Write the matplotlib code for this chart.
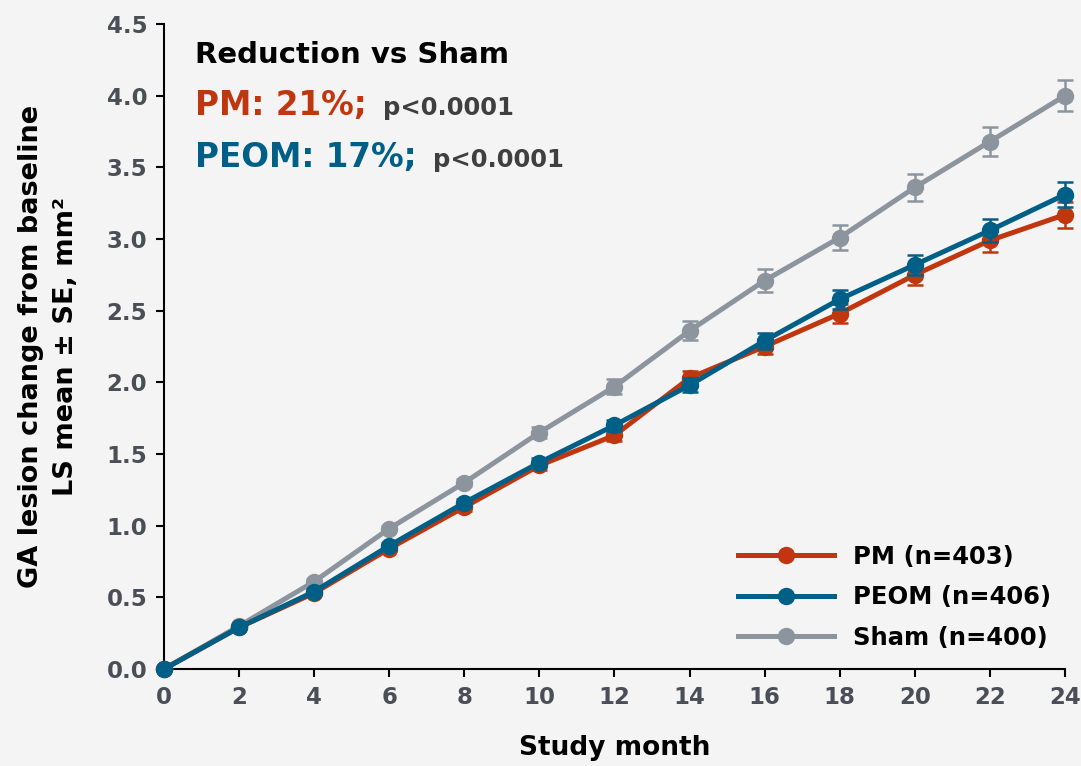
import matplotlib
matplotlib.use("Agg")
import matplotlib.pyplot as plt
import numpy as np

plt.rcParams['font.family'] = ['DejaVu Sans']
plt.rcParams['font.weight'] = 'bold'

months = [0, 2, 4, 6, 8, 10, 12, 14, 16, 18, 20, 22, 24]
pm_mean = [0.0, 0.29, 0.53, 0.84, 1.13, 1.42, 1.63, 2.03, 2.25, 2.48, 2.75, 2.99, 3.17]
peom_mean = [0.0, 0.29, 0.54, 0.86, 1.16, 1.44, 1.70, 1.98, 2.29, 2.58, 2.82, 3.06, 3.31]
sham_mean = [0.0, 0.30, 0.61, 0.98, 1.30, 1.65, 1.97, 2.36, 2.71, 3.01, 3.36, 3.68, 4.00]
pm_se = [0.0, 0.01, 0.015, 0.02, 0.025, 0.03, 0.04, 0.05, 0.055, 0.065, 0.07, 0.08, 0.09]
peom_se = [0.0, 0.01, 0.015, 0.02, 0.025, 0.03, 0.04, 0.05, 0.055, 0.065, 0.07, 0.08, 0.09]
sham_se = [0.0, 0.01, 0.015, 0.02, 0.025, 0.035, 0.05, 0.065, 0.08, 0.09, 0.095, 0.10, 0.11]

labels = ['PM (n=403)', 'PEOM (n=406)', 'Sham (n=400)']
colors = ['#C0370F', '#005F86', '#8C959E']
bg = '#F4F4F4'
tick_color = '#4A4F57'
W, H = 1081, 766

fig = plt.figure(figsize=(W / 100, H / 100), dpi=100, facecolor=bg)
ax = fig.add_axes([164 / W, 1 - 669 / H, (1065 - 164) / W, (669 - 24) / H])
ax.set_facecolor(bg)

# Draw sham underneath the two treatment arms
series = list(zip(labels, [pm_mean, peom_mean, sham_mean], [pm_se, peom_se, sham_se], colors))
for z, (lab, mean, se, col) in zip([4, 5, 3], series):
    ax.errorbar(months, mean, yerr=se, color=col, lw=3.6, marker='o', ms=11.5,
                elinewidth=1.8, capsize=5.5, capthick=1.8, label=lab,
                zorder=z, clip_on=False)

ax.set_xlim(0, 24)
ax.set_ylim(0, 4.5)
ax.set_xticks(months)
ax.set_yticks(np.arange(0, 4.51, 0.5))
ax.yaxis.set_major_formatter(matplotlib.ticker.FormatStrFormatter('%.1f'))
ax.tick_params(direction='out', length=6, width=1.5, labelsize=16.5, labelcolor=tick_color, pad=6)
for lbl in ax.get_xticklabels() + ax.get_yticklabels():
    lbl.set_fontweight('bold')
for s in ['top', 'right']:
    ax.spines[s].set_visible(False)
for s in ['left', 'bottom']:
    ax.spines[s].set_linewidth(1.5)

ax.set_xlabel('Study month', fontsize=19, fontweight='bold', labelpad=19)
ax.set_ylabel('GA lesion change from baseline\nLS mean \u00b1 SE, mm\u00b2', fontsize=19.5,
              fontweight='bold', labelpad=20, linespacing=1.45)

# Legend handles without the error bar caps
handles, leg_labels = ax.get_legend_handles_labels()
handles = [h[0] for h in handles]
ax.legend(handles, leg_labels, loc='upper left', bbox_to_anchor=(728 / W, 1 - 535 / H),
          bbox_transform=fig.transFigure, borderaxespad=0, frameon=False,
          handlelength=3.95, handletextpad=0.78, labelspacing=0.68,
          prop={'weight': 'bold', 'size': 17.5})


def px(x, y):
    return x / W, 1 - y / H


# Reduction summary in the upper left
fig.text(*px(195, 63), 'Reduction vs Sham', fontsize=21, fontweight='bold',
         color='black', va='baseline')
for y, txt, col in [(115, 'PM: 21%;', colors[0]), (167, 'PEOM: 17%;', colors[1])]:
    t = fig.text(*px(195, y), txt, fontsize=23.5, fontweight='bold', color=col, va='baseline')
    ax.annotate('p<0.0001', xy=(1, H - y), xycoords=(t, 'figure pixels'),
                xytext=(12, 0), textcoords='offset points', va='baseline', ha='left',
                fontsize=17.5, fontweight='bold', color='#3F3F3F')

fig.savefig('out.png', dpi=100, facecolor=bg)
